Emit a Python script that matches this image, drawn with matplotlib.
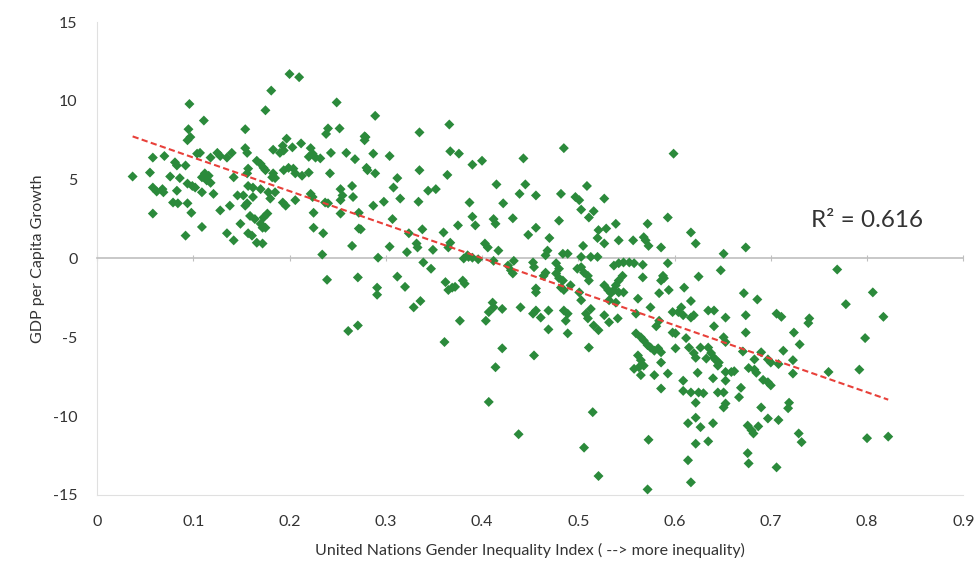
import numpy as np
import matplotlib
matplotlib.use('Agg')
import matplotlib.pyplot as plt

# (gender inequality index, GDP per capita growth)
pts = [
    # GII < 0.16
    (0.037,5.2),(0.058,6.4),(0.070,6.5),(0.055,5.45),(0.076,5.2),(0.081,6.1),(0.083,5.9),(0.092,5.9),
    (0.058,4.5),(0.062,4.25),(0.068,4.4),(0.069,4.2),(0.058,2.85),(0.079,3.55),(0.084,3.5),(0.094,3.5),
    (0.083,4.3),(0.098,2.9),(0.092,1.45),(0.109,2.0),(0.086,5.1),(0.094,4.75),(0.099,4.6),(0.102,4.5),
    (0.109,5.15),(0.112,5.4),(0.116,5.25),(0.114,4.95),(0.118,4.8),(0.107,6.7),(0.104,6.65),(0.118,6.4),
    (0.125,6.7),(0.128,6.5),(0.135,6.4),(0.140,6.7),(0.109,4.2),(0.121,4.1),(0.128,3.05),(0.138,3.35),
    (0.142,5.15),(0.146,4.0),(0.152,4.0),(0.149,2.2),(0.135,1.6),(0.142,1.15),(0.154,8.2),(0.154,7.0),
    (0.157,5.7),(0.156,5.4),(0.156,3.5),(0.096,9.8),(0.111,8.75),(0.095,8.2),(0.094,7.5),(0.097,7.7),
    # 0.15 - 0.30
    (0.200,11.7),(0.210,11.5),(0.181,10.65),(0.175,9.4),(0.249,9.9),(0.240,8.25),(0.238,7.9),(0.252,8.25),
    (0.278,7.75),(0.156,6.7),(0.197,7.6),(0.193,7.15),(0.194,6.85),(0.190,6.7),(0.203,7.05),(0.183,6.9),
    (0.212,7.3),(0.222,7.0),(0.224,6.65),(0.227,6.4),(0.232,6.35),(0.220,6.45),(0.243,6.7),(0.259,6.7),
    (0.268,6.3),(0.280,5.75),(0.242,5.4),(0.220,5.45),(0.166,6.2),(0.170,6.0),(0.173,5.75),(0.175,5.6),
    (0.183,5.4),(0.185,5.1),(0.182,5.15),(0.194,5.6),(0.199,5.75),(0.204,5.7),(0.206,5.4),(0.213,5.25),
    (0.157,4.6),(0.162,4.5),(0.170,4.4),(0.178,4.2),(0.162,3.9),(0.154,3.35),(0.185,4.2),(0.180,3.8),
    (0.193,3.55),(0.196,3.35),(0.206,3.7),(0.222,4.1),(0.224,3.9),(0.225,2.9),(0.225,1.95),(0.235,1.6),
    (0.234,0.25),(0.237,3.55),(0.240,3.5),(0.253,4.4),(0.255,4.0),(0.253,3.7),(0.253,2.85),(0.265,4.6),
    (0.266,3.9),(0.272,2.9),(0.272,1.9),(0.265,0.8),(0.281,5.6),(0.159,2.7),(0.164,2.5),(0.170,2.2),
    (0.172,1.95),(0.175,1.95),(0.177,2.85),(0.173,2.6),(0.157,1.6),(0.161,1.45),(0.166,1.0),(0.172,0.95),
    (0.239,-1.35),(0.271,-1.2),(0.271,-4.25),(0.261,-4.6),
    # 0.27 - 0.41
    (0.289,9.05),(0.279,7.7),(0.278,7.5),(0.335,8.0),(0.366,8.5),(0.287,6.65),(0.304,6.5),(0.367,6.8),
    (0.376,6.65),(0.390,5.95),(0.400,6.2),(0.289,5.4),(0.335,5.6),(0.364,5.3),(0.312,5.1),(0.308,4.5),
    (0.344,4.3),(0.352,4.4),(0.315,3.8),(0.298,3.6),(0.287,3.35),(0.334,3.6),(0.387,3.55),(0.307,2.5),
    (0.274,1.85),(0.324,1.6),(0.338,1.85),(0.360,1.65),(0.375,2.1),(0.390,2.65),(0.393,2.1),(0.304,0.75),
    (0.322,0.4),(0.332,0.95),(0.333,0.7),(0.349,0.55),(0.367,1.0),(0.365,0.7),(0.385,0.2),(0.390,0.05),
    (0.406,0.7),(0.403,0.95),(0.292,0.05),(0.339,-0.25),(0.347,-0.65),(0.312,-1.15),(0.320,-1.8),
    (0.291,-1.85),(0.291,-2.3),(0.362,-1.5),(0.365,-2.0),(0.369,-1.85),(0.372,-1.8),(0.380,-1.4),
    (0.382,-1.6),(0.381,0.0),(0.386,0.1),(0.396,-0.05),(0.336,-2.7),(0.329,-3.1),(0.377,-3.95),
    (0.361,-5.3),(0.407,-9.1),
    # 0.40 - 0.53
    (0.485,7.0),(0.443,6.35),(0.415,4.7),(0.445,4.7),(0.439,4.1),(0.456,4.0),(0.482,4.1),(0.509,4.6),
    (0.497,3.9),(0.501,3.7),(0.527,3.8),(0.422,3.5),(0.503,3.1),(0.516,3.0),(0.511,2.6),(0.432,2.55),
    (0.412,2.5),(0.414,2.2),(0.480,2.4),(0.456,1.95),(0.448,1.5),(0.470,1.3),(0.521,1.8),(0.520,1.3),
    (0.529,1.9),(0.527,0.95),(0.505,0.8),(0.417,0.5),(0.468,0.5),(0.466,0.2),(0.484,0.3),(0.489,0.3),
    (0.503,0.1),(0.513,0.1),(0.520,0.1),(0.412,-0.15),(0.433,-0.15),(0.427,-0.45),(0.430,-0.75),
    (0.432,-0.95),(0.453,-0.25),(0.454,-0.55),(0.466,-0.9),(0.464,-1.1),(0.477,-0.95),(0.480,-1.25),
    (0.484,-1.4),(0.477,-0.3),(0.480,-0.65),(0.499,-0.65),(0.503,-0.55),(0.506,-0.9),(0.510,-1.1),
    (0.511,-1.4),(0.482,-1.85),(0.485,-2.0),(0.492,-1.7),(0.501,-2.15),(0.503,-2.65),(0.527,-1.7),
    (0.531,-2.0),(0.532,-2.65),(0.456,-1.9),(0.456,-2.15),(0.411,-2.8),(0.412,-3.1),(0.407,-3.4),
    (0.404,-3.95),(0.421,-3.2),(0.440,-3.1),(0.456,-3.3),(0.453,-3.5),(0.461,-3.75),(0.469,-3.3),
    (0.485,-3.3),(0.489,-3.5),(0.487,-3.95),(0.469,-4.5),(0.489,-4.75),(0.508,-3.5),(0.510,-3.8),
    (0.513,-3.2),(0.516,-4.25),(0.521,-4.55),(0.527,-3.6),(0.532,-4.05),(0.421,-5.7),(0.454,-6.15),
    (0.511,-5.65),(0.414,-6.9),(0.515,-9.75),(0.438,-11.15),(0.506,-12.0),(0.521,-13.8),
    # 0.53 - 0.66
    (0.599,6.65),(0.593,2.6),(0.572,2.2),(0.539,2.2),(0.617,1.65),(0.568,1.35),(0.570,1.15),(0.542,1.15),
    (0.557,1.15),(0.586,0.7),(0.622,0.95),(0.651,0.3),(0.573,0.8),(0.593,-0.3),(0.537,-0.45),(0.542,-0.3),
    (0.547,-0.25),(0.553,-0.25),(0.558,-0.3),(0.567,-0.4),(0.567,-1.2),(0.588,-1.1),(0.586,-1.4),
    (0.589,-1.25),(0.625,-1.15),(0.648,-0.75),(0.546,-1.1),(0.542,-1.4),(0.539,-1.7),(0.537,-2.0),
    (0.534,-2.2),(0.539,-2.8),(0.542,-2.15),(0.547,-2.15),(0.584,-2.2),(0.594,-2.0),(0.610,-1.85),
    (0.617,-2.7),(0.562,-2.55),(0.575,-3.1),(0.598,-3.4),(0.604,-3.4),(0.607,-3.1),(0.609,-3.6),
    (0.617,-3.75),(0.620,-3.6),(0.635,-3.3),(0.641,-3.3),(0.653,-3.75),(0.560,-3.5),(0.541,-3.8),
    (0.584,-3.95),(0.581,-4.3),(0.598,-4.7),(0.601,-4.75),(0.641,-4.3),(0.651,-5.0),(0.653,-5.3),
    (0.560,-4.75),(0.565,-5.0),(0.568,-5.2),(0.572,-5.5),(0.575,-5.65),(0.579,-5.85),(0.583,-5.7),
    (0.586,-5.95),(0.601,-5.7),(0.612,-5.05),(0.615,-5.65),(0.620,-6.0),(0.622,-6.3),(0.627,-5.65),
    (0.635,-5.65),(0.638,-6.0),(0.641,-6.3),(0.643,-6.45),(0.646,-6.6),(0.645,-6.8),(0.633,-6.35),
    (0.562,-6.15),(0.565,-6.45),(0.558,-7.0),(0.563,-6.9),(0.568,-6.8),(0.565,-7.4),(0.586,-6.6),
    (0.579,-7.4),(0.593,-7.3),(0.624,-7.25),(0.653,-7.75),(0.609,-7.75),(0.609,-8.4),(0.586,-8.25),
    (0.640,-7.6),(0.617,-8.5),(0.625,-8.5),(0.630,-8.55),(0.645,-8.5),(0.651,-8.5),(0.653,-9.2),
    (0.651,-9.45),(0.622,-9.15),(0.622,-10.1),(0.614,-10.45),(0.627,-10.7),(0.640,-10.45),(0.635,-11.6),
    (0.622,-11.75),(0.573,-11.5),(0.614,-12.8),(0.617,-14.2),(0.572,-14.65),
    # > 0.66
    (0.674,0.7),(0.769,-0.7),(0.672,-2.2),(0.686,-2.6),(0.778,-2.9),(0.674,-3.6),(0.706,-3.5),
    (0.711,-3.7),(0.740,-3.8),(0.739,-4.1),(0.817,-3.7),(0.674,-4.7),(0.724,-4.7),(0.798,-5.05),
    (0.730,-5.45),(0.671,-5.9),(0.690,-5.95),(0.713,-5.85),(0.683,-6.4),(0.697,-6.4),(0.700,-6.6),
    (0.708,-6.7),(0.723,-6.45),(0.677,-6.95),(0.683,-7.05),(0.685,-7.25),(0.653,-7.2),(0.659,-7.2),
    (0.662,-7.15),(0.723,-7.3),(0.760,-7.2),(0.792,-7.05),(0.692,-7.7),(0.697,-7.85),(0.700,-8.05),
    (0.669,-8.2),(0.667,-8.8),(0.690,-9.45),(0.719,-9.15),(0.718,-9.5),(0.676,-10.6),(0.680,-10.9),
    (0.682,-11.1),(0.687,-10.65),(0.697,-10.15),(0.708,-10.25),(0.729,-11.1),(0.732,-11.65),
    (0.676,-12.35),(0.677,-13.0),(0.706,-13.25),(0.800,-11.4),(0.822,-11.3),(0.806,-2.15),
]
gii = np.array([p[0] for p in pts])
growth = np.array([p[1] for p in pts])

x_ticks = [0, 0.1, 0.2, 0.3, 0.4, 0.5, 0.6, 0.7, 0.8, 0.9]
x_ticklabels = ['0', '0.1', '0.2', '0.3', '0.4', '0.5', '0.6', '0.7', '0.8', '0.9']
y_ticks = [-15, -10, -5, 0, 5, 10, 15]
r2_label = 'R\u00b2 = 0.616'

plt.rcParams['font.family'] = ['Lato', 'DejaVu Sans']
plt.rcParams['axes.unicode_minus'] = False
fig = plt.figure(figsize=(9.75, 5.65), dpi=100)
ax = fig.add_axes([0.0995, 0.124, 0.8885, 0.837])

ax.scatter(gii, growth, marker='D', s=26, color='#2b8a3b', edgecolors='none', zorder=3)

# linear trendline
k, b = np.polyfit(gii, growth, 1)
xl = np.array([gii.min(), gii.max()])
ax.plot(xl, k * xl + b, color='#e8403a', lw=1.5, dashes=(3, 1.6), zorder=4)

ax.set_xlim(0, 0.9)
ax.set_ylim(-15, 15)
ax.set_xticks(x_ticks)
ax.set_xticklabels(x_ticklabels)
ax.set_yticks(y_ticks)
ax.tick_params(axis='both', labelsize=11.5, colors='#333333', length=0)
ax.tick_params(axis='y', pad=14)

# horizontal axis line crossing at 0 (Excel style)
ax.spines['top'].set_position(('data', 0))
ax.spines['top'].set_color('#bfbfbf')
ax.spines['top'].set_linewidth(1.2)
ax.xaxis.set_ticks_position('top')
ax.tick_params(axis='x', which='both', top=True, bottom=False, labeltop=False, labelbottom=True,
               direction='inout', length=5, color='#bfbfbf', pad=12)
ax.spines['left'].set_color('#e0e0e0')
ax.spines['bottom'].set_color('#e0e0e0')
ax.spines['right'].set_visible(False)

ax.set_xlabel('United Nations Gender Inequality Index ( --> more inequality)', fontsize=11.5,
              color='#333333', labelpad=10)
ax.set_ylabel('GDP per Capita Growth', fontsize=11.5, color='#333333', labelpad=6)

ax.text(0.742, 2.4, r2_label, fontsize=17.5, color='#333333', va='center', ha='left')

fig.savefig('out.png', dpi=100)
